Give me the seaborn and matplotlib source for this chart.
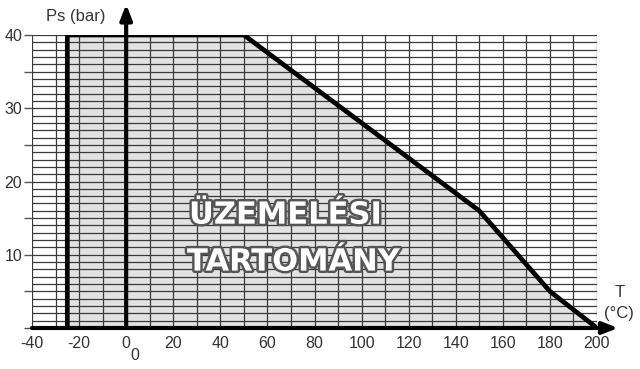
import matplotlib
matplotlib.use("Agg")
import matplotlib.pyplot as plt
import matplotlib.patheffects as pe
import numpy as np
import pandas as pd
import seaborn as sns

# Data: operating envelope boundary
temp = [-25, -25, 50, 150, 180, 200]
pressure = [0, 40, 40, 16, 5, 0]
x_ticks = [-40, -20, 0, 20, 40, 60, 80, 100, 120, 140, 160, 180, 200]
y_ticks = [10, 20, 30, 40]
label_lines = ["ÜZEMELÉSI", "TARTOMÁNY"]

sns.set_style("white")
plt.rcParams['font.family'] = ['Liberation Sans', 'DejaVu Sans']

fig = plt.figure(figsize=(6.4, 3.69), dpi=100)
ax = fig.add_axes([32/640, 41/369, 565/640, 293/369])
ax.set_xlim(-40, 200)
ax.set_ylim(0, 40)

df = pd.DataFrame({"T": temp, "P": pressure})

# fill
ax.fill_between(df["T"], df["P"], 0, color="#e2e2e2", zorder=0, lw=0)

# grid
for gx in np.arange(-40, 201, 10):
    ax.axvline(gx, color="#3a3a3a", lw=0.9, zorder=1)
for gy in np.arange(0, 41, 1):
    ax.axhline(gy, color="#3a3a3a", lw=0.9, zorder=1)

# boundary
sns.lineplot(data=df, x="T", y="P", sort=False, estimator=None, color="black",
             lw=3.4, ax=ax, zorder=4, solid_joinstyle="round")

for s in ax.spines.values():
    s.set_visible(False)

# axes arrows
ax.annotate("", xy=(209, 0), xytext=(-40, 0), xycoords="data",
            arrowprops=dict(arrowstyle="-|>,head_length=0.9,head_width=0.35",
                            color="black", lw=3, shrinkA=0, shrinkB=0),
            annotation_clip=False, zorder=5)
ax.annotate("", xy=(0, 44.2), xytext=(0, 0), xycoords="data",
            arrowprops=dict(arrowstyle="-|>,head_length=0.9,head_width=0.35",
                            color="black", lw=3, shrinkA=0, shrinkB=0),
            annotation_clip=False, zorder=5)

ax.set_xticks(x_ticks)
ax.set_xticklabels([str(v) for v in x_ticks])
ax.set_yticks(y_ticks)
ax.set_yticklabels([str(v) for v in y_ticks])
ax.set_yticks(np.arange(0, 41, 5), minor=True)
ax.tick_params(axis="both", which="major", labelsize=11.5, labelcolor="#333333",
               length=0, pad=5)
ax.tick_params(axis="y", which="both", left=True, length=6, color="#555555",
               width=1, pad=1)
ax.tick_params(axis="x", pad=6)
ax.set_xlabel("")
ax.set_ylabel("")

ax.text(3.5, -3.7, "0", fontsize=11.5, color="#333333", ha="center", va="center",
        clip_on=False)
ax.text(-21.5, 42.5, "Ps (bar)", fontsize=12, color="#333333", ha="center",
        va="center", clip_on=False)
ax.text(209.5, 4.9, "T", fontsize=12, color="#333333", ha="center",
        va="center", clip_on=False)
ax.text(209.5, 2.0, "(°C)", fontsize=12, color="#333333", ha="center",
        va="center", clip_on=False)

for (tx, ty), s in zip([(67.5, 15.4), (70.9, 9.0)], label_lines):
    ax.text(tx, ty, s, fontsize=22, fontweight="bold", color="white",
            family="DejaVu Sans", ha="center", va="center", zorder=6,
            path_effects=[pe.withStroke(linewidth=3.5, foreground="#555555")])

fig.savefig("out.png", dpi=100)
